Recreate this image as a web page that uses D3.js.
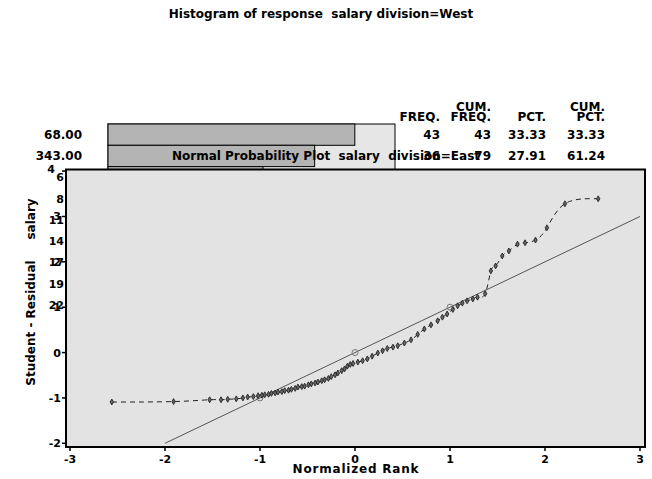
<!DOCTYPE html>
<html>
<head>
<meta charset="utf-8">
<script src="https://cdn.jsdelivr.net/npm/d3@7"></script>
<style>
  body { margin: 0; background: #fff; }
  text { font-family: "DejaVu Sans", sans-serif; font-weight: bold; fill: #000; font-size: 12px; }
</style>
</head>
<body>
<div id="chart"></div>
<script>
// histogram (West) rows - third bar is mostly hidden behind the plot
var rowLabels = ["68.00", "343.00"];
var rowFreq = [43, 36, 27];
var tableHeads = [["FREQ."], ["CUM.", "FREQ."], ["PCT."], ["CUM.", "PCT."]];
var tableRows = [
  ["43", "43", "33.33", "33.33"],
  ["36", "79", "27.91", "61.24"]
];
// stray row labels that show left of the plot frame
var strayLabels = ["6", "8", "11", "14", "17", "19", "22"];

// normal probability plot (East)
var xTicks = [-3, -2, -1, 0, 1, 2, 3];
var yTicks = [-2, -1, 0, 1, 2, 3, 4];
var rank = [-2.56,-1.91,-1.53,-1.41,-1.34,-1.25,-1.18,-1.13,-1.07,-1.02,-0.98,-0.95,-0.91,-0.88,-0.84,-0.81,-0.77,-0.74,-0.70,-0.67,-0.63,-0.60,-0.56,-0.53,-0.49,-0.46,-0.42,-0.39,-0.35,-0.32,-0.28,-0.25,-0.21,-0.18,-0.14,-0.11,-0.08,-0.05,-0.02,0.03,0.08,0.13,0.18,0.24,0.29,0.34,0.40,0.45,0.52,0.59,0.66,0.73,0.80,0.87,0.92,0.97,1.03,1.08,1.13,1.18,1.24,1.29,1.37,1.43,1.48,1.55,1.62,1.71,1.79,1.90,2.02,2.21,2.56];
var resid = [-1.09,-1.08,-1.04,-1.04,-1.03,-1.02,-1.00,-0.98,-0.97,-0.95,-0.94,-0.93,-0.92,-0.90,-0.89,-0.87,-0.86,-0.84,-0.83,-0.81,-0.79,-0.76,-0.75,-0.74,-0.71,-0.69,-0.67,-0.65,-0.62,-0.60,-0.57,-0.53,-0.49,-0.45,-0.40,-0.36,-0.30,-0.26,-0.24,-0.21,-0.18,-0.14,-0.08,-0.01,0.04,0.09,0.12,0.15,0.21,0.28,0.40,0.52,0.61,0.70,0.78,0.85,0.95,1.03,1.09,1.14,1.18,1.22,1.30,1.80,1.91,2.13,2.24,2.39,2.42,2.48,2.75,3.28,3.39];
var refLine = [-2, 3];
var refMarks = [-1, 0, 1];

var W = 652, H = 479;
var svg = d3.select("#chart").append("svg")
    .attr("width", W).attr("height", H);

// title
svg.append("text")
    .attr("x", 321).attr("y", 18)
    .attr("text-anchor", "middle")
    .attr("xml:space", "preserve")
    .text("Histogram of response  salary division=West");

// ---- histogram ----
var fScale = d3.scaleLinear().domain([0, 50]).range([108, 395]);
var rowY = d3.scaleLinear().domain([0, 1]).range([124, 145.3]);

svg.append("rect")
    .attr("x", fScale(0)).attr("y", rowY(0))
    .attr("width", fScale(50) - fScale(0)).attr("height", 80)
    .attr("fill", "#e6e6e6").attr("stroke", "#000").attr("stroke-width", 1);

svg.selectAll(".bar").data(rowFreq).enter().append("rect")
    .attr("x", fScale(0))
    .attr("y", (d, i) => rowY(i))
    .attr("width", d => fScale(d) - fScale(0))
    .attr("height", rowY(1) - rowY(0))
    .attr("fill", "#b4b4b4").attr("stroke", "#000").attr("stroke-width", 1);

svg.selectAll(".rowlab").data(rowLabels).enter().append("text")
    .attr("x", 82).attr("y", (d, i) => rowY(i + 0.5) + 4)
    .attr("text-anchor", "end")
    .text(d => d);

var colX = [440, 491, 546, 605];
tableHeads.forEach(function(h, c) {
  h.forEach(function(t, k) {
    svg.append("text")
      .attr("x", colX[c]).attr("y", h.length == 2 && k == 0 ? 111 : 121)
      .attr("text-anchor", "end")
      .text(t);
  });
});
tableRows.forEach(function(r, i) {
  r.forEach(function(t, c) {
    svg.append("text")
      .attr("x", colX[c]).attr("y", rowY(i + 0.5) + 4.5)
      .attr("text-anchor", "end")
      .text(t);
  });
});

// second title, drawn on top of the histogram
svg.append("text")
    .attr("x", 326).attr("y", rowY(1.5) + 4.5)
    .attr("text-anchor", "middle")
    .attr("xml:space", "preserve")
    .text("Normal Probability Plot  salary  division=East");

// ---- probability plot ----
var x = d3.scaleLinear().domain([-3, 3]).range([70, 640]);
var y = d3.scaleLinear().domain([-2, 4]).range([443.3, 171.1]);

svg.append("rect")
    .attr("x", 66).attr("y", 169.5)
    .attr("width", 645 - 66).attr("height", 447 - 169.5)
    .attr("fill", "#e3e3e3").attr("stroke", "#000").attr("stroke-width", 2);

// x axis
svg.selectAll(".xt").data(xTicks).enter().append("line")
    .attr("x1", d => x(d)).attr("x2", d => x(d))
    .attr("y1", 447).attr("y2", 451)
    .attr("stroke", "#000").attr("stroke-width", 1.5);
svg.selectAll(".xl").data(xTicks).enter().append("text")
    .attr("x", d => x(d)).attr("y", 463)
    .attr("text-anchor", "middle")
    .style("font-size", "11px")
    .text(d => d);
svg.append("text")
    .attr("x", 356).attr("y", 473)
    .attr("text-anchor", "middle")
    .style("letter-spacing", "0.8px")
    .text("Normalized Rank");

// y axis
svg.selectAll(".yt").data(yTicks).enter().append("line")
    .attr("x1", 62).attr("x2", 66)
    .attr("y1", d => y(d)).attr("y2", d => y(d))
    .attr("stroke", "#000").attr("stroke-width", 1.5);
svg.selectAll(".yl").data(yTicks).enter().append("text")
    .attr("x", d => d == 4 ? 55 : 61)
    .attr("y", d => d == 4 ? y(d) + 2 : y(d) + 4)
    .attr("text-anchor", "end")
    .style("font-size", "11px")
    .text(d => d);
svg.selectAll(".stray").data(strayLabels).enter().append("text")
    .attr("x", 64).attr("y", (d, i) => rowY(i + 2.5) + 4)
    .attr("text-anchor", "end")
    .style("font-size", "11px")
    .text(d => d);
svg.append("text")
    .attr("transform", "translate(35,292) rotate(-90)")
    .attr("text-anchor", "middle")
    .attr("xml:space", "preserve")
    .text("Student - Residual     salary");

// reference line
svg.append("line")
    .attr("x1", x(refLine[0])).attr("y1", y(refLine[0]))
    .attr("x2", x(refLine[1])).attr("y2", y(refLine[1]))
    .attr("stroke", "#555").attr("stroke-width", 1);
svg.selectAll(".ref").data(refMarks).enter().append("circle")
    .attr("cx", d => x(d)).attr("cy", d => y(d)).attr("r", 3)
    .attr("fill", "none").attr("stroke", "#777").attr("stroke-width", 1);

// residual curve
var pts = rank.map((r, i) => ({x: r, y: resid[i]}));
svg.append("path")
    .datum(pts)
    .attr("fill", "none").attr("stroke", "#222").attr("stroke-width", 1)
    .attr("stroke-dasharray", "5,4")
    .attr("d", d3.line().x(d => x(d.x)).y(d => y(d.y)).curve(d3.curveNatural));
svg.selectAll(".pt").data(pts).enter().append("path")
    .attr("transform", d => "translate(" + x(d.x) + "," + y(d.y) + ")")
    .attr("d", d3.symbol().type(d3.symbolDiamond).size(10))
    .attr("fill", "#666").attr("stroke", "#222").attr("stroke-width", 0.9);
</script>
</body>
</html>
